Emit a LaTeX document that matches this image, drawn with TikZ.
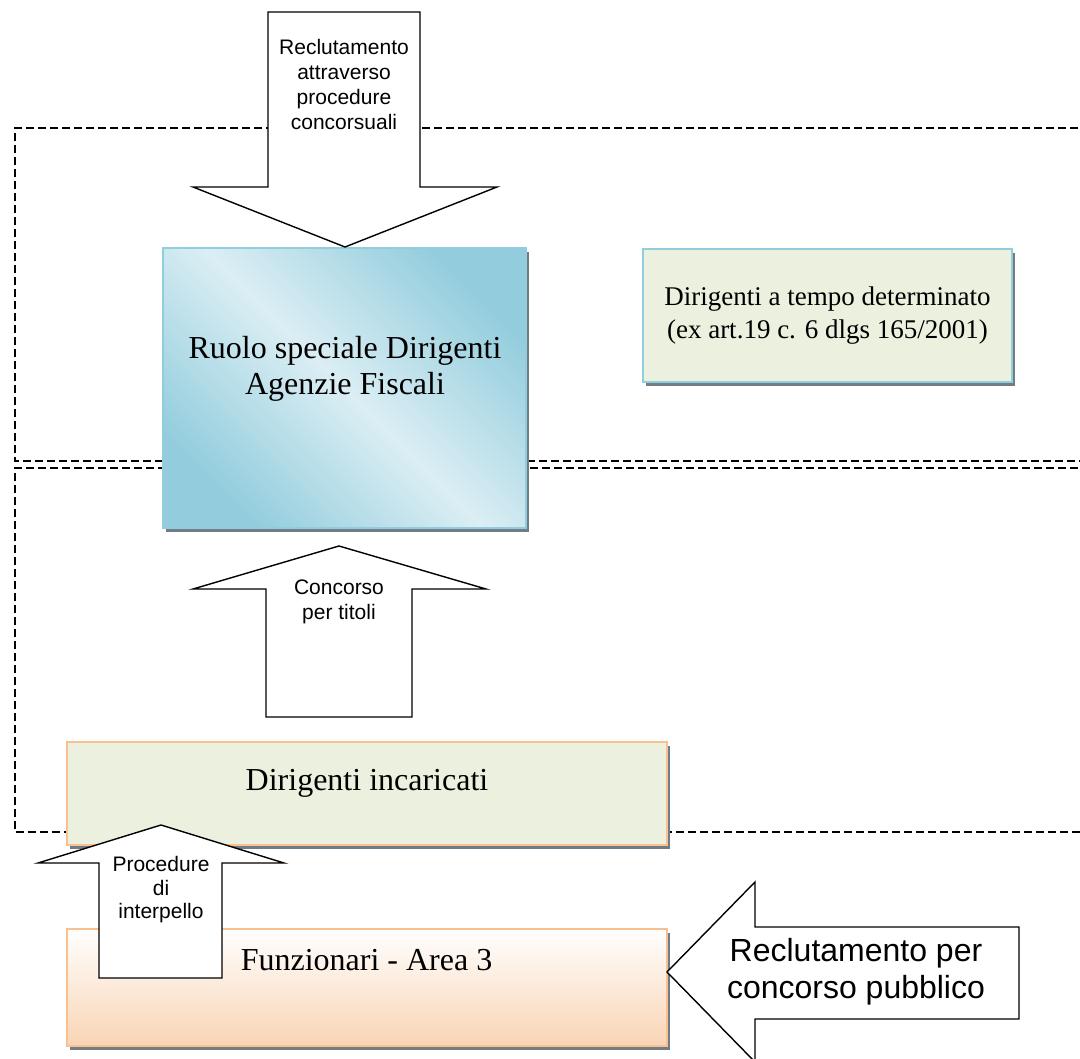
\documentclass[tikz,border=0pt]{standalone}
\usepackage{fontspec}
\setmainfont{Liberation Serif}
\newfontfamily\arialfont{Liberation Sans}
\usetikzlibrary{shadows}

\definecolor{bluerim}{RGB}{146,205,221}
\definecolor{bluedark}{RGB}{147,205,221}
\definecolor{bluelight}{RGB}{219,238,244}
\definecolor{greenfill}{RGB}{235,241,222}
\definecolor{orangerim}{RGB}{250,192,144}
\definecolor{peach}{RGB}{249,212,180}
\definecolor{shadowcol}{RGB}{112,124,134}

\tikzset{
  zone/.style={draw, dash pattern=on 8pt off 4pt, line width=1.5pt},
  box/.style={rectangle, inner sep=0pt, outer sep=0pt, line width=2pt,
    general shadow={fill=shadowcol, shadow xshift=3pt, shadow yshift=-4pt}},
  bluebox/.style={box, draw=bluerim},
  orangebox/.style={box, draw=orangerim},
  boxtext/.style={align=center, inner sep=0pt, font=\fontsize{32}{36}\selectfont},
  blockarrow/.style={draw=black, fill=white, line width=1.4pt, line join=miter},
  arrowtext/.style={align=center, inner sep=0pt, font=\arialfont\fontsize{21}{25}\selectfont}
}

\begin{document}
\begin{tikzpicture}[x=1pt, y=-1pt]
\useasboundingbox (0,0) rectangle (1080,1059);

% dashed zones
\draw[zone] (1090,128) -- (15,128) -- (15,461) -- (1090,461);
\draw[zone] (1090,468) -- (15,468) -- (15,832) -- (1090,832);

% boxes
\node[bluebox, minimum width=363pt, minimum height=280pt,
  top color=bluedark, bottom color=bluedark, middle color=bluelight, shading angle=-45] (ruolo) at (344.5,388) {};
\node[boxtext] (ruolotext) at (345,369) {Ruolo speciale Dirigenti\\Agenzie Fiscali};

\node[bluebox, fill=greenfill, minimum width=369pt, minimum height=133pt] (tempo) at (827.5,315.5) {};
\node[boxtext, font=\fontsize{27}{33}\selectfont] (tempotext) at (tempo) {Dirigenti a tempo determinato\\(ex art.19 c. 6 dlgs 165/2001)};

\node[orangebox, fill=greenfill, minimum width=600pt, minimum height=103pt] (incaricati) at (367,793.5) {};
\node[boxtext] (incaricatitext) at (367,783) {Dirigenti incaricati};

\node[orangebox, top color=white, bottom color=peach, minimum width=600pt, minimum height=117pt] (funz) at (367,987.5) {};
\node[boxtext] (funztext) at (366.5,960) {Funzionari - Area 3};

% block arrows
\draw[blockarrow] (268,12) -- (420,12) -- (420,187) -- (497,187) -- (345,247) -- (193,187) -- (268,187) -- cycle;
\node[arrowtext] (recltext) at (344,84) {Reclutamento\\attraverso\\procedure\\concorsuali};

\draw[blockarrow] (266,717) -- (412,717) -- (412,589) -- (486,589) -- (339,546) -- (193,589) -- (266,589) -- cycle;
\node[arrowtext] (concorsotext) at (339,601.5) {Concorso\\per titoli};

\draw[blockarrow] (99,978) -- (222,978) -- (222,863) -- (284,863) -- (161,825) -- (38,863) -- (99,863) -- cycle;
\node[arrowtext, font=\arialfont\fontsize{21}{23.5}\selectfont] (interpellotext) at (161,890) {Procedure\\di\\interpello};

\draw[blockarrow] (1019,927) -- (1019,1019) -- (755,1019) -- (755,1062) -- (667,972) -- (755,882) -- (755,927) -- cycle;
\node[arrowtext, font=\arialfont\fontsize{32}{37}\selectfont] (pubblicotext) at (856,971.5) {Reclutamento per\\concorso pubblico};
\end{tikzpicture}
\end{document}
